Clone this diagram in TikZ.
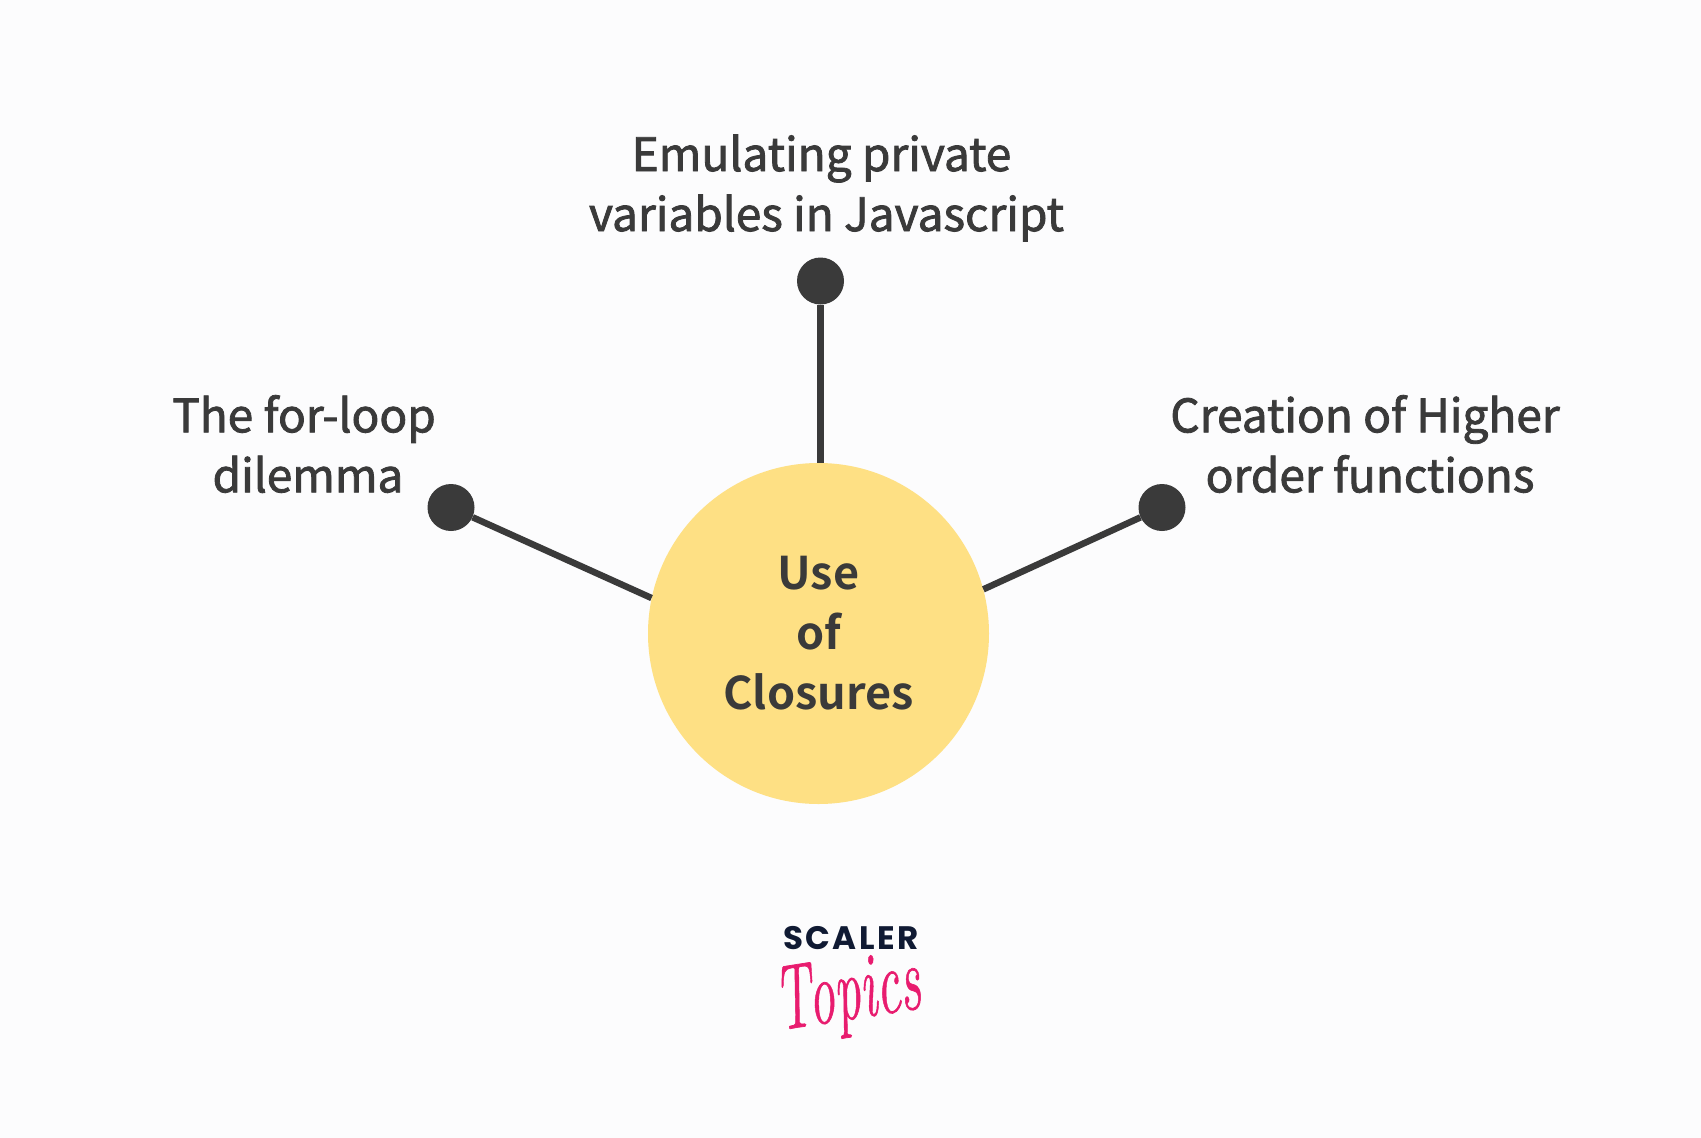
\documentclass[tikz,border=0pt]{standalone}
\usepackage{fontspec}
\newfontfamily\labfont{Noto Sans CJK SC}[FakeBold=1.8]
\newfontfamily\hubfont{Noto Sans CJK SC Bold}
\newfontfamily\logofont{Poppins}[LetterSpace=8]
\newfontfamily\topicsfont{Latin Modern Roman}[ItalicFeatures={FakeBold=0.8}]
\definecolor{bgc}{HTML}{FCFCFD}
\definecolor{ink}{HTML}{3A3A3A}
\definecolor{hubc}{HTML}{FEE084}
\definecolor{navy}{HTML}{101A33}
\definecolor{pinkc}{HTML}{E81C6F}
\tikzset{
  x=1pt,y=-1pt,
  dotnode/.style={circle,fill=ink,minimum size=47pt,inner sep=0pt},
  hubnode/.style={circle,fill=hubc,minimum size=341pt,inner sep=0pt,align=center,text=ink,font=\hubfont\fontsize{45}{60}\selectfont},
  labelnode/.style={align=center,text=ink,inner sep=0pt,font=\labfont\fontsize{46}{60}\selectfont},
  spoke/.style={draw=ink,line width=6.5pt}
}
\begin{document}
\begin{tikzpicture}
\fill[bgc] (0,0) rectangle (1701,1138);
\useasboundingbox (0,0) rectangle (1701,1138);
\node[hubnode] (hub) at (818.5,633.5) {Use\\of\\Closures};
\node[dotnode] (dl) at (451,507.5) {};
\node[dotnode] (dt) at (820.5,281) {};
\node[dotnode] (dr) at (1162,507.5) {};
\draw[spoke] (dl) -- (hub.168);
\draw[spoke] (dt) -- (hub.north -| dt);
\draw[spoke] (dr) -- (hub.15.2);
\node[labelnode] (lt) at (826.5,188) {Emulating private\hspace*{10pt}\\variables in Javascript};
\node[labelnode] (ll) at (308,444) {The for-loop\hspace*{8pt}\\dilemma};
\node[labelnode] (lr) at (1370,444) {Creation of Higher\hspace*{10pt}\\order functions};
\node[text=navy,inner sep=0pt,font=\logofont\bfseries\fontsize{32.5}{33}\selectfont] (scaler) at (851,938.5) {SCALER};
\node[text=pinkc,inner sep=0pt,rotate=9,xscale=.73,yscale=1.28,font=\topicsfont\itshape\fontsize{72}{72}\selectfont] (topics) at (848,997) {Topics};
\end{tikzpicture}
\end{document}
